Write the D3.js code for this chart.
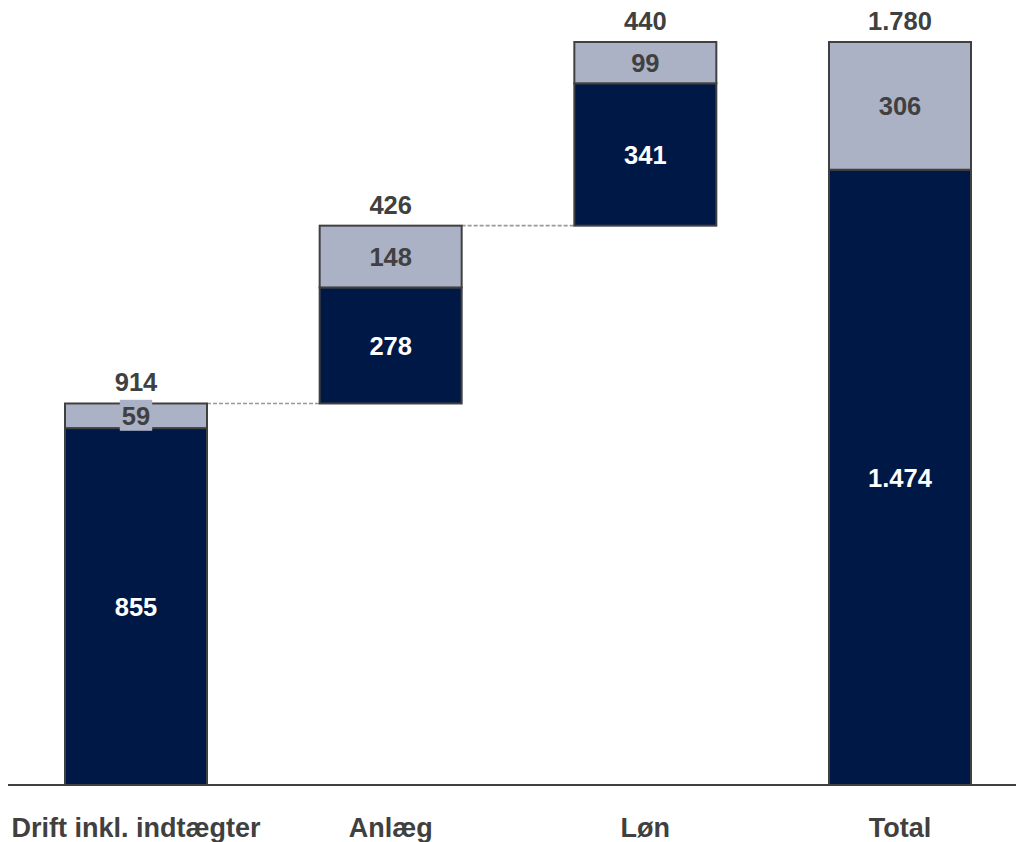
<!DOCTYPE html>
<html>
<head>
<meta charset="utf-8">
<script src="https://cdn.jsdelivr.net/npm/d3@7"></script>
<style>
  html, body { margin: 0; padding: 0; background: #ffffff; }
  svg { display: block; }
  text { font-family: "Liberation Sans", Arial, sans-serif; font-weight: bold; }
</style>
</head>
<body>
<svg id="chart" width="1016" height="842"></svg>
<script>
const categories = ["Drift inkl. indtægter", "Anlæg", "Løn", "Total"];
const darkValues = [855, 278, 341, 1474];
const lightValues = [59, 148, 99, 306];
const isTotal = [false, false, false, true];

const W = 1016, H = 842;
const svg = d3.select("#chart");

const locale = d3.formatLocale({ decimal: ",", thousands: ".", grouping: [3], currency: ["", " kr."] });
const fmt = locale.format(",d");

// compute waterfall bases
let running = 0;
const rows = categories.map((c, i) => {
  const total = darkValues[i] + lightValues[i];
  const base = isTotal[i] ? 0 : running;
  if (!isTotal[i]) running += total;
  return { cat: c, base, dark: darkValues[i], light: lightValues[i], total };
});

const x = d3.scaleBand().domain(categories).range([65, 971]).paddingInner(0.4424).paddingOuter(0);
const y = d3.scaleLinear().domain([0, 1780]).range([785, 42]);

const navy = "#001846";
const light = "#ACB2C6";
const edge = "#404040";
const txt = "#404040";

// connectors
for (let i = 0; i < rows.length - 2; i++) {
  const top = rows[i].base + rows[i].total;
  svg.append("line")
    .attr("x1", x(rows[i].cat) + x.bandwidth())
    .attr("x2", x(rows[i + 1].cat))
    .attr("y1", y(top)).attr("y2", y(top))
    .attr("stroke", "#999999").attr("stroke-width", 1.6)
    .attr("stroke-dasharray", "4,2");
}

const g = svg.selectAll("g.bar").data(rows).enter().append("g").attr("class", "bar");

// dark segment
g.append("rect")
  .attr("x", d => x(d.cat))
  .attr("width", x.bandwidth())
  .attr("y", d => y(d.base + d.dark))
  .attr("height", d => y(d.base) - y(d.base + d.dark))
  .attr("fill", navy).attr("stroke", edge).attr("stroke-width", 2);

// light segment
g.append("rect")
  .attr("x", d => x(d.cat))
  .attr("width", x.bandwidth())
  .attr("y", d => y(d.base + d.total))
  .attr("height", d => y(d.base + d.dark) - y(d.base + d.total))
  .attr("fill", light).attr("stroke", edge).attr("stroke-width", 2);

// axis baseline
svg.append("line").attr("x1", 8).attr("x2", W).attr("y1", y(0)).attr("y2", y(0))
  .attr("stroke", edge).attr("stroke-width", 2);

// dark values
g.append("text")
  .attr("x", d => x(d.cat) + x.bandwidth() / 2)
  .attr("y", d => (y(d.base) + y(d.base + d.dark)) / 2)
  .attr("dy", "0.36em")
  .attr("text-anchor", "middle")
  .attr("font-size", 25.5)
  .attr("fill", "#ffffff")
  .text(d => fmt(d.dark));

// light values (with background box where segment is small)
g.each(function(d) {
  const sel = d3.select(this);
  const cx = x(d.cat) + x.bandwidth() / 2;
  const cy = (y(d.base + d.dark) + y(d.base + d.total)) / 2;
  const segH = y(d.base + d.dark) - y(d.base + d.total);
  const t = sel.append("text")
    .attr("x", cx).attr("y", cy).attr("dy", "0.36em")
    .attr("text-anchor", "middle").attr("font-size", 25.5)
    .attr("fill", txt).text(fmt(d.light));
  if (segH < 32) {
    const bb = t.node().getBBox();
    sel.insert("rect", function() { return t.node(); })
      .attr("x", cx - bb.width / 2 - 2)
      .attr("width", bb.width + 4)
      .attr("y", cy - 16).attr("height", 31)
      .attr("fill", light);
  }
});

// total labels
g.append("text")
  .attr("x", d => x(d.cat) + x.bandwidth() / 2)
  .attr("y", d => y(d.base + d.total) - 12)
  .attr("text-anchor", "middle")
  .attr("font-size", 25.5)
  .attr("fill", txt)
  .text(d => fmt(d.total));

// category labels
svg.selectAll("text.cat").data(categories).enter().append("text")
  .attr("class", "cat")
  .attr("x", d => x(d) + x.bandwidth() / 2)
  .attr("y", 837)
  .attr("text-anchor", "middle")
  .attr("font-size", 27)
  .attr("fill", txt)
  .text(d => d);
</script>
</body>
</html>
